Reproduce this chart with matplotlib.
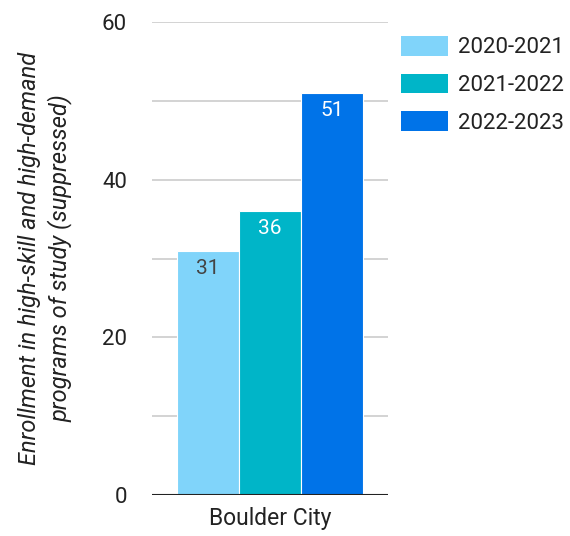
import matplotlib.pyplot as plt
from matplotlib.patches import Patch

plt.rcParams['font.family'] = ['Roboto', 'DejaVu Sans']

# data
category = 'Boulder City'
years = ['2020-2021', '2021-2022', '2022-2023']
values = [31, 36, 51]
colors = ['#80d4fa', '#00b5c8', '#0073e8']
label_colors = ['#444444', 'white', 'white']

fig = plt.figure(figsize=(5.7, 5.36), dpi=100)
ax = fig.add_axes([152 / 570, 1 - 495 / 536, 236 / 570, 473 / 536])

width = 0.262
offsets = [-width, 0, width]
for i, (yr, v) in enumerate(zip(years, values)):
    ax.bar(offsets[i], v, width=width, color=colors[i], edgecolor='white',
           linewidth=0.8, zorder=3, label=yr)
    ax.text(offsets[i], v - 1.0, str(v), ha='center', va='top',
            fontsize=15, color=label_colors[i], zorder=4)

ax.set_xlim(-0.5, 0.5)
ax.set_ylim(0, 60)
ax.set_yticks([0, 20, 40, 60])
ax.set_yticks([10, 30, 50], minor=True)
ax.grid(axis='y', which='both', color='#cccccc', linewidth=1.2, zorder=0)
ax.axhline(0, color='#222222', linewidth=1.5, zorder=5)
ax.tick_params(axis='y', which='both', length=0, labelsize=16, pad=18,
               labelcolor='#222222')
ax.set_xticks([0])
ax.set_xticklabels([category])
ax.tick_params(axis='x', length=0, labelsize=16.5, pad=9, labelcolor='#222222')
for s in ax.spines.values():
    s.set_visible(False)

ax.set_ylabel('Enrollment in high-skill and high-demand\nprograms of study (suppressed)',
              fontsize=17, style='italic', color='#222222', labelpad=21,
              linespacing=1.35)

handles = [Patch(facecolor=c, edgecolor='none') for c in colors]
fig.legend(handles, years, loc='upper left', bbox_to_anchor=(392 / 570, 1 - 27 / 536),
           frameon=False, fontsize=16, handlelength=2.1, handleheight=1.0,
           handletextpad=0.45, labelspacing=0.68, borderaxespad=0,
           labelcolor='#222222')

fig.savefig('out.png', dpi=100)
